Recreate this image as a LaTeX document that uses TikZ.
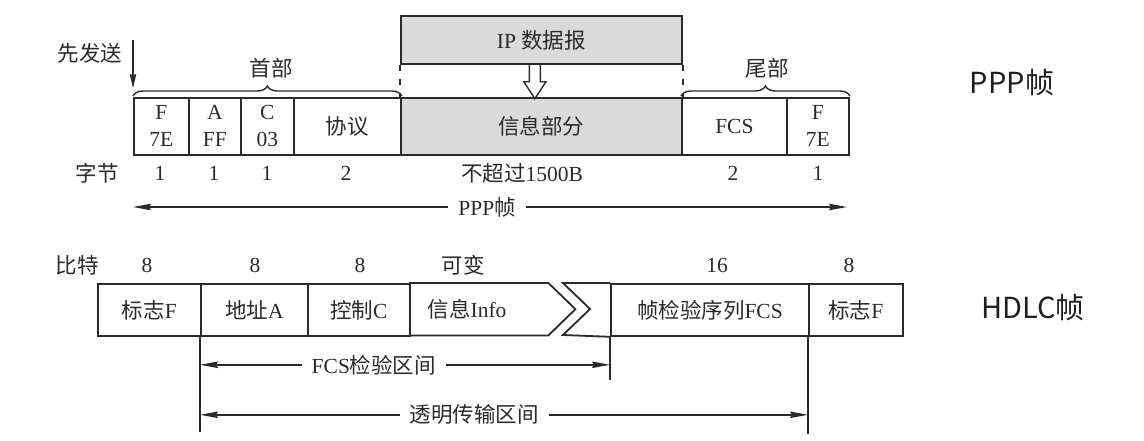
\documentclass[tikz,border=0pt]{standalone}
\usepackage{fontspec}
\setmainfont{Liberation Serif}
\newfontfamily\cjk{Noto Sans CJK SC}
\usetikzlibrary{arrows.meta,decorations.pathreplacing,calc}
\newcommand{\zhtext}[1]{{\cjk #1}}
\definecolor{ink}{HTML}{2A2A2A}
\definecolor{shade}{HTML}{DADADA}
\begin{document}
\begin{tikzpicture}[x=1pt,y=-1pt,
  every node/.style={font=\fontsize{21.5}{27}\selectfont, text=ink, inner sep=0pt},
  cell/.style={draw=ink, line width=1.8pt, align=center, anchor=north west},
  pppcell/.style={cell, minimum height=57pt, minimum width=#1},
  hdlccell/.style={cell, minimum height=52pt, minimum width=#1},
  bracestyle/.style={draw=ink, line width=1.4pt, decorate, decoration={brace, amplitude=10pt, raise=1pt}},
  dim/.style={draw=ink, line width=1.4pt, {Stealth[length=18pt,width=6.5pt,inset=2pt]}-{Stealth[length=18pt,width=6.5pt,inset=2pt]}},
  onarrow/.style={fill=white, inner xsep=10pt, inner ysep=2pt},
  bigname/.style={font=\cjk\fontsize{29}{29}\selectfont, text=black!88},
  thin/.style={draw=ink, line width=1.4pt}
]
\useasboundingbox[fill=white] (0,0) rectangle (1144,441);

% ---------------- PPP frame ----------------
\node[cell, fill=shade, minimum width=281pt, minimum height=48pt] (ip) at (400,15) {IP \zhtext{数据报}};

\node[pppcell=55pt] (pf) at (133,97) {F\\7E};
\node[pppcell=52pt] (pa) at (188,97) {A\\FF};
\node[pppcell=53pt] (pc) at (240,97) {C\\03};
\node[pppcell=107pt] (pp) at (293,97) {\zhtext{协议}};
\node[pppcell=281pt, fill=shade] (pi) at (400,97) {\zhtext{信息部分}};
\node[pppcell=105pt] (pfcs) at (681,97) {FCS};
\node[pppcell=62pt] (pf2) at (786,97) {F\\7E};

% dashed guides and hollow arrow
\draw[thin, dash pattern=on 6pt off 8pt] (ip.south west) -- (pi.north west);
\draw[thin, dash pattern=on 6pt off 8pt] (ip.south east) -- (pi.north east);
\draw[thin, line join=miter] ($(ip.south)+(-12,0)$) -- ++(0,17) -- ++(-5.5,0) -- ++(11,17) -- ++(11,-17) -- ++(-5.5,0) -- ++(0,-17);

% braces
\draw[bracestyle] (pf.north west) -- (pp.north east);
\node (head) at (271,68) {\zhtext{首部}};
\draw[bracestyle] (pfcs.north west) -- (pf2.north east);
\node (tail) at (767,68) {\zhtext{尾部}};

% first sent
\node (first) at (90,53) {\zhtext{先发送}};
\coordinate (sendtop) at (133,40);
\draw[thin, -{Stealth[length=14pt,width=6.5pt,inset=1.5pt]}] (sendtop) -- ($(pf.north west)+(0,-9)$);

% byte row
\node (bytes) at (97,173) {\zhtext{字节}};
\node (b1) at (160,173) {1};
\node (b2) at (214,173) {1};
\node (b3) at (267,173) {1};
\node (b4) at (346,173) {2};
\node (b5) at (522,173) {\zhtext{不超过}1500B};
\node (b6) at (733,173) {2};
\node (b7) at (818,173) {1};

% PPP frame span
\coordinate (pppL) at (133,207);
\coordinate (pppR) at (847,207);
\draw[dim] (pppL) -- (pppR) node[onarrow, pos=0.496] (ppplabel) {PPP\zhtext{帧}};

\node[bigname] (pppname) at (1012,83) {PPP帧};

% ---------------- HDLC frame ----------------
\node (bits) at (77,265) {\zhtext{比特}};
\node (n1) at (147,265) {8};
\node (n2) at (255,265) {8};
\node (n3) at (360,265) {8};
\node (n4) at (463,265) {\zhtext{可变}};
\node (n5) at (717,265) {16};
\node (n6) at (849,265) {8};

\node[hdlccell=103pt] (hf) at (97,283) {\zhtext{标志}F};
\node[hdlccell=107pt] (ha) at (200,283) {\zhtext{地址}A};
\node[hdlccell=102pt] (hc) at (307,283) {\zhtext{控制}C};
\node[minimum width=139pt, minimum height=52pt, anchor=north west] (hi) at (409,283) {};
\node (hilabel) at (467,309) {\zhtext{信息}Info};
\node[hdlccell=198pt] (hfcs) at (610,283) {\zhtext{帧检验序列}FCS};
\node[hdlccell=94pt] (hf2) at (808,283) {\zhtext{标志}F};

\draw[draw=ink, line width=1.8pt, line join=miter]
  (hi.north west) -- (hi.north east) -- ($(hi.east)+(27,0)$) -- (hi.south east) -- (hi.south west);
\draw[draw=ink, line width=1.8pt, line join=miter]
  (hfcs.north west) -- ++(-47,0) -- ++(27,26) -- ++(-27,26) -- (hfcs.south west);

% extent lines
\draw[thin] (ha.south west) -- ++(0,95);
\draw[thin] (hfcs.south west) -- ++(0,43);
\draw[thin] (hf2.south west) -- ++(0,97);

\draw[dim] ($(ha.south west)+(0,28)$) -- ($(hfcs.south west)+(0,28)$)
  node[onarrow, pos=0.424] (fcsrange) {FCS\zhtext{检验区间}};
\draw[dim] ($(ha.south west)+(0,78)$) -- ($(hf2.south west)+(0,78)$)
  node[onarrow, pos=0.451] (transrange) {\zhtext{透明传输区间}};

\node[bigname] (hdlcname) at (1033,308) {HDLC帧};
\end{tikzpicture}
\end{document}
